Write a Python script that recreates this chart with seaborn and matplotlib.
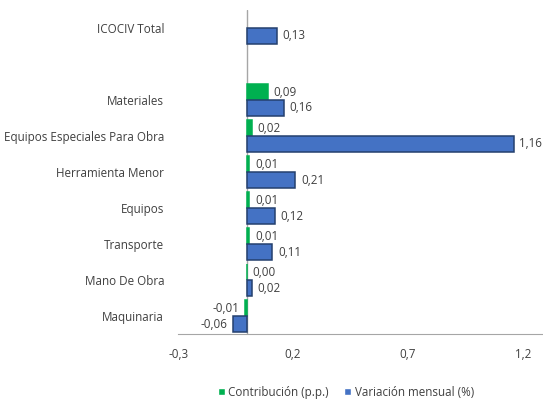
import matplotlib
matplotlib.use("Agg")
import matplotlib.pyplot as plt
import seaborn as sns
import pandas as pd
import numpy as np

categories = ["ICOCIV Total", " ", "Materiales", "Equipos Especiales Para Obra",
              "Herramienta Menor", "Equipos", "Transporte", "Mano De Obra", "Maquinaria"]
contribucion = [np.nan, np.nan, 0.09, 0.02, 0.01, 0.01, 0.01, 0.00, -0.01]
variacion = [0.13, np.nan, 0.16, 1.16, 0.21, 0.12, 0.11, 0.02, -0.06]
series = ["Contribución (p.p.)", "Variación mensual (%)"]
xticks = [-0.3, 0.2, 0.7, 1.2]

rows = []
for c, a, b in zip(categories, contribucion, variacion):
    if not np.isnan(a):
        rows.append({"cat": c, "serie": series[0], "val": a})
    if not np.isnan(b):
        rows.append({"cat": c, "serie": series[1], "val": b})
df = pd.DataFrame(rows)

sns.set_style("white")
plt.rcParams["font.family"] = ["Open Sans", "DejaVu Sans"]
FS = 8.4
TXT = "#404040"

fig = plt.figure(figsize=(5.43, 4.03), dpi=100)
ax = fig.add_axes([0.328, 0.171, 0.672, 0.804])

sns.barplot(data=df, y="cat", x="val", hue="serie", order=categories,
            hue_order=series, palette=["#00B050", "#4472C4"], orient="h",
            width=0.88, errorbar=None, saturation=1, ax=ax, legend=True)

for cont, ec in zip(ax.containers, ["#00B050", "#24406E"]):
    for p in cont:
        p.set_edgecolor(ec)
        p.set_linewidth(1.1)
    ax.bar_label(cont, fmt=lambda v: f"{v:.2f}".replace(".", ","), padding=4,
                 fontsize=FS, color=TXT, clip_on=False)

ax.set_xlim(-0.3, 1.287)
ax.set_xticks(xticks)
ax.set_xticklabels([f"{t:.1f}".replace(".", ",") for t in xticks])
ax.set_xlabel("")
ax.set_ylabel("")
ax.tick_params(axis="y", length=0, pad=10, labelsize=FS, labelcolor=TXT)
ax.tick_params(axis="x", length=0, pad=10, labelsize=FS, labelcolor=TXT)
for s in ["top", "right", "left"]:
    ax.spines[s].set_visible(False)
ax.spines["bottom"].set_color("#A6A6A6")
ax.axvline(0, color="#A6A6A6", lw=1, zorder=0.5)

handles, labels = ax.get_legend_handles_labels()
ax.get_legend().remove()
fig.legend(handles, labels, loc="lower center", bbox_to_anchor=(0.637, -0.015),
           ncol=2, frameon=False, fontsize=FS, handlelength=0.6, handleheight=0.6,
           handletextpad=0.3, columnspacing=1.3, labelcolor=TXT)

fig.savefig("out.png", dpi=100)
